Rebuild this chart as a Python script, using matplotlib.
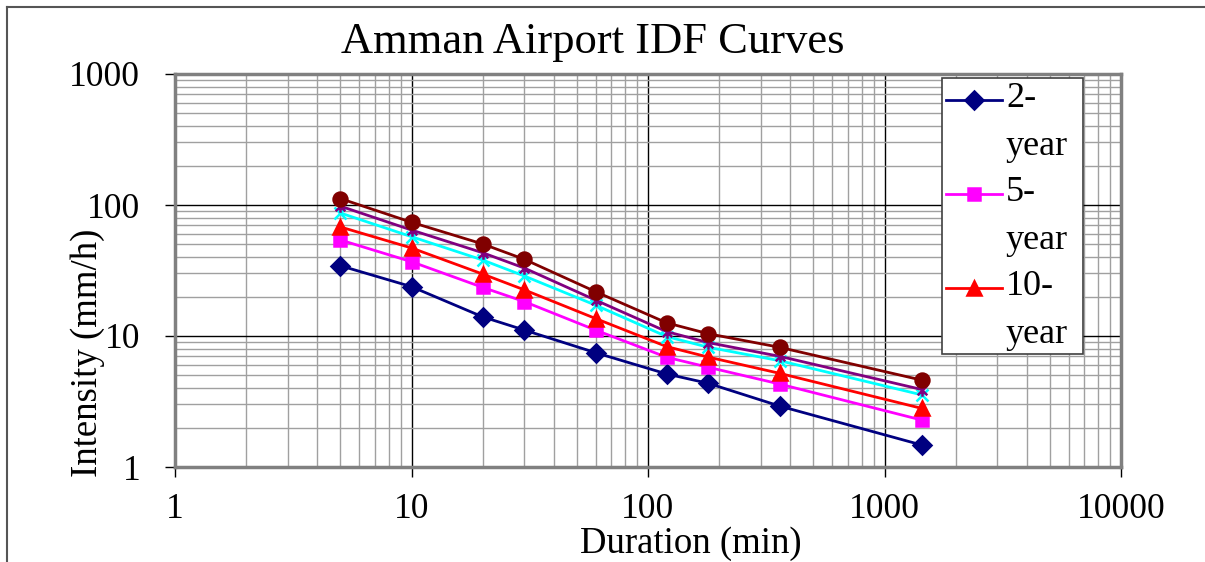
import numpy as np
import matplotlib.pyplot as plt
import matplotlib.transforms as mtransforms
from matplotlib.path import Path
from matplotlib.ticker import LogLocator, NullFormatter
from matplotlib.lines import Line2D
from matplotlib.legend_handler import HandlerLine2D

# --- data ---
durations = [5, 10, 20, 30, 60, 120, 180, 360, 1440]   # min
series_names = ["2-\nyear", "5-\nyear", "10-\nyear", "25-year", "50-year", "100-year"]
i_2yr = [34.4, 23.8, 14.0, 11.1, 7.46, 5.13, 4.35, 2.92, 1.47]
i_5yr = [54.1, 36.9, 23.5, 18.3, 11.1, 6.88, 5.77, 4.3, 2.28]
i_10yr = [68.0, 47.0, 29.7, 22.5, 13.6, 8.3, 6.9, 5.19, 2.8]
i_25yr = [86.9, 57.3, 38.0, 28.7, 17.2, 9.9, 8.2, 6.48, 3.55]
i_50yr = [98.0, 64.4, 43.2, 33.0, 18.8, 10.8, 8.9, 7.0, 3.9]
i_100yr = [112.0, 73.8, 50.4, 38.5, 21.8, 12.6, 10.4, 8.2, 4.6]

# excel style asterisk: x plus a vertical bar
asterisk = Path([(-1, -1), (1, 1), (-1, 1), (1, -1), (0, -1.3), (0, 1.3)],
                [Path.MOVETO, Path.LINETO] * 3)

styles = [
    ("#000080", "D", 9),
    ("#FF00FF", "s", 9),
    ("#FF0000", "^", 10),
    ("#00FFFF", "x", 9),
    ("#800080", asterisk, 9),
    ("#800000", "o", 10),
]
all_series = [i_2yr, i_5yr, i_10yr, i_25yr, i_50yr, i_100yr]


class TopLineHandler(HandlerLine2D):
    # put the legend sample next to the first text line, like excel does
    def create_artists(self, legend, orig_handle, xdescent, ydescent,
                       width, height, fontsize, trans):
        arts = super().create_artists(legend, orig_handle, xdescent, ydescent,
                                      width, height, fontsize, trans)
        shift = mtransforms.Affine2D().translate(0, 16) + trans
        for a in arts:
            a.set_transform(shift)
        return arts


plt.rcParams["font.family"] = ["Liberation Serif", "DejaVu Serif"]

W, H = 1205, 562
fig = plt.figure(figsize=(W / 100, H / 100), dpi=100)
ax = fig.add_axes([175 / W, 1 - 467 / H, (1121 - 175) / W, (467 - 74) / H])

lines = []
for vals, name, (col, mk, ms) in zip(all_series, series_names, styles):
    ln, = ax.plot(durations, vals, color=col, lw=2, marker=mk, ms=ms,
                  mec=col, mfc=col, mew=1.8, label=name, zorder=3)
    lines.append(ln)

ax.set_xscale("log")
ax.set_yscale("log")
ax.set_xlim(1, 10000)
ax.set_ylim(1, 1000)

ax.set_xticks([1, 10, 100, 1000, 10000])
ax.set_xticklabels(["1", "10", "100", "1000", "10000"])
ax.set_yticks([1, 10, 100, 1000])
ax.set_yticklabels(["1", "10", "100", "1000"])
ax.xaxis.set_minor_locator(LogLocator(base=10, subs=np.arange(2, 10)))
ax.yaxis.set_minor_locator(LogLocator(base=10, subs=np.arange(2, 10)))
ax.xaxis.set_minor_formatter(NullFormatter())
ax.yaxis.set_minor_formatter(NullFormatter())

ax.tick_params(which="major", direction="out", length=7, width=1, labelsize=25.5,
               color="black")
ax.tick_params(axis="x", which="major", pad=12)
ax.tick_params(axis="y", which="major", pad=18)
ax.tick_params(which="minor", length=0)

ax.grid(which="minor", color="#a0a0a0", lw=1)
ax.grid(which="major", color="black", lw=1)
ax.set_axisbelow(True)
for sp in ax.spines.values():
    sp.set_color("#808080")
    sp.set_linewidth(2.5)

fig.text(593 / W, 1 - 42 / H, "Amman Airport IDF Curves", fontsize=32,
         ha="center", va="center")
fig.text(691 / W, 1 - 544 / H, "Duration (min)", fontsize=26.5,
         ha="center", va="center")
fig.text(88 / W, 1 - 353 / H, "Intensity (mm/h)", fontsize=26.5,
         ha="center", va="center", rotation=90)

# legend only shows the first three entries (box is clipped in the original)
leg = ax.legend(handles=lines[:3], loc="upper left", mode="expand",
                bbox_to_anchor=(942 / W, 1 - 352 / H, (1083 - 942) / W,
                                (352 - 78) / H),
                bbox_transform=fig.transFigure, fontsize=26, frameon=True,
                fancybox=False, edgecolor="#404040", framealpha=1,
                handlelength=1.55, handletextpad=0.12, borderpad=0.1,
                labelspacing=0.36, borderaxespad=0,
                handler_map={Line2D: TopLineHandler()})
leg.get_frame().set_linewidth(1.2)
for t in leg.get_texts():
    t.set_linespacing(1.6)

# chart-area border (top and left edges visible)
fig.add_artist(Line2D([7 / W, 1], [1 - 7 / H, 1 - 7 / H],
                      transform=fig.transFigure, color="#555555", lw=1.5))
fig.add_artist(Line2D([7 / W, 7 / W], [0, 1 - 7 / H],
                      transform=fig.transFigure, color="#555555", lw=1.5))

fig.savefig("out.png", dpi=100)
